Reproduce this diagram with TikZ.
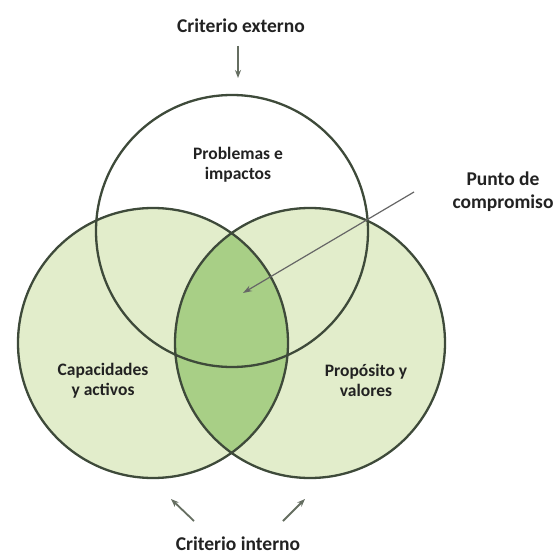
\documentclass[tikz,border=0pt]{standalone}
\usepackage{fontspec}
\setmainfont{Carlito}
\usetikzlibrary{arrows.meta}
\definecolor{lightg}{HTML}{E2EDCB}
\definecolor{darkg}{HTML}{A8CF86}
\definecolor{ring}{HTML}{3E4A3A}
\definecolor{txt}{HTML}{222222}
\tikzset{
  lbl/.style={font=\bfseries\fontsize{17.5}{20}\selectfont, text=txt, align=center, inner sep=0pt},
  outerlbl/.style={font=\bfseries\fontsize{19.5}{23}\selectfont, text=txt, align=center, inner sep=0pt},
  ringline/.style={draw=ring, line width=2.3pt},
  pointer/.style={draw=gray!80!black, line width=1.2pt, -{Stealth[length=9pt,width=6pt]}},
  smallarrow/.style={draw=ring!80, line width=1.8pt, -{Stealth[length=8pt,width=6pt]}}
}
\begin{document}
\begin{tikzpicture}[x=1pt,y=-1pt]
\useasboundingbox (0,0) rectangle (559,556);
\fill[white] (0,0) rectangle (559,556);
\coordinate (cT) at (232,231);
\coordinate (cL) at (153,343);
\coordinate (cR) at (310,343);
% fills
\fill[lightg] (cL) circle[radius=135];
\fill[lightg] (cR) circle[radius=135];
\begin{scope}
  \clip (cL) circle[radius=135];
  \fill[darkg] (cR) circle[radius=135];
\end{scope}
% outlines
\draw[ringline] (cT) circle[radius=136];
\draw[ringline] (cL) circle[radius=135];
\draw[ringline] (cR) circle[radius=135];
% labels
\node[outerlbl] (ext) at (241,26) {Criterio externo};
\node[lbl] (prob) at (238,165) {Problemas e\\impactos};
\node[lbl] (cap) at (103,381) {Capacidades\\y activos};
\node[lbl] (prop) at (366,380) {Propósito y\\valores};
\node[outerlbl] (punto) at (503,192) {Punto de\\compromiso};
\node[outerlbl] (int) at (238,544) {Criterio interno};
% arrows
\coordinate (extA) at (238,46);
\coordinate (extB) at (238,78);
\draw[smallarrow] (extA) -- (extB);
\coordinate (pS) at (414,192);
\coordinate (pE) at (243,293);
\draw[pointer] (pS) -- (pE);
\coordinate (bl1) at (194,521);
\coordinate (bl2) at (171,499);
\draw[smallarrow] (bl1) -- (bl2);
\coordinate (br1) at (283,521);
\coordinate (br2) at (305,499);
\draw[smallarrow] (br1) -- (br2);
\end{tikzpicture}
\end{document}
